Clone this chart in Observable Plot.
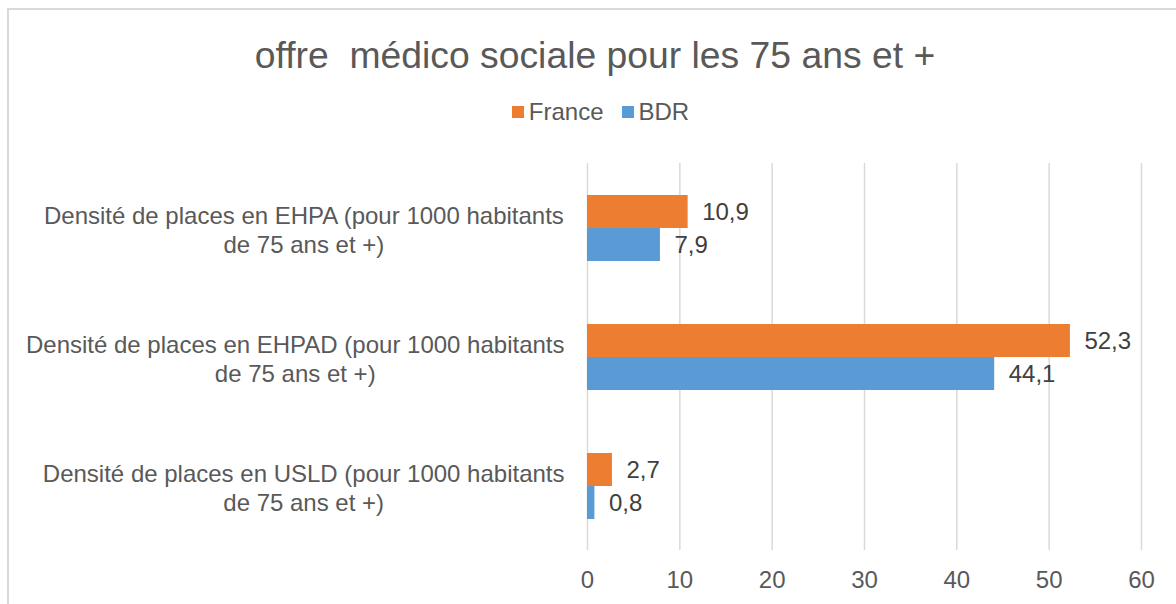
<!DOCTYPE html>
<html>
<head>
<meta charset="utf-8">
<script src="https://cdn.jsdelivr.net/npm/d3@7"></script>
<script src="https://cdn.jsdelivr.net/npm/@observablehq/plot@0.6"></script>
<style>
  html, body { margin: 0; padding: 0; background: #fff; }
  body { width: 1176px; height: 604px; overflow: hidden; position: relative;
         font-family: "Liberation Sans", Arial, sans-serif; color: #595959; }
  #frame { position: absolute; left: 7px; top: 8px; width: 1200px; height: 620px;
           border-top: 2px solid #d9d9d9; border-left: 2px solid #d9d9d9; box-sizing: border-box; }
  #title { position: absolute; left: 7px; width: 1176px; top: 36px; height: 38px;
           line-height: 38px; text-align: center; font-size: 37.3px; white-space: pre; color: #595959; }
  #legend { position: absolute; left: 0; width: 1201px; top: 100px; height: 24px;
            display: flex; justify-content: center; align-items: center; font-size: 24px; }
  .item { display: flex; align-items: center; }
  .item + .item { margin-left: 18px; }
  .sw { width: 12px; height: 12px; margin-right: 5px; }
  #chart { position: absolute; left: 0; top: 150px; }
</style>
</head>
<body>
<div id="frame"></div>
<div id="title"></div>
<div id="legend"></div>
<div id="chart"></div>
<script>
const titleText = "offre  médico sociale pour les 75 ans et +";
const categories = ["EHPA", "EHPAD", "USLD"];
const categoryLabels = [
  "Densité de places en EHPA (pour 1000 habitants\nde 75 ans et +)",
  "Densité de places en EHPAD (pour 1000 habitants\nde 75 ans et +)",
  "Densité de places en USLD (pour 1000 habitants\nde 75 ans et +)"
];
const series = ["France", "BDR"];
const franceValues = [10.9, 52.3, 2.7];
const bdrValues = [7.9, 44.1, 0.8];
const colors = ["#ED7D31", "#5B9BD5"];
const xTicks = [0, 10, 20, 30, 40, 50, 60];

const data = [];
categories.forEach((c, i) => {
  data.push({category: c, series: "France", value: franceValues[i]});
  data.push({category: c, series: "BDR", value: bdrValues[i]});
});
const fmt = v => d3.format(".1f")(v).replace(".", ",");

document.getElementById("title").textContent = titleText;
const legend = document.getElementById("legend");
series.forEach((s, i) => {
  const it = document.createElement("div");
  it.className = "item";
  const sw = document.createElement("div");
  sw.className = "sw";
  sw.style.background = colors[i];
  const t = document.createElement("span");
  t.textContent = s;
  it.appendChild(sw); it.appendChild(t);
  legend.appendChild(it);
});

// measure the first line of each label so the wrapped block is right-aligned
// against the axis (with lines centered within the block), as in the original
const ctx = document.createElement("canvas").getContext("2d");
ctx.font = "24px 'Liberation Sans', Arial, sans-serif";
const labelGap = 23; // px between label block and the axis
const labelMarks = categories.map((c, i) => {
  const lines = categoryLabels[i].split("\n");
  const w = Math.max(...lines.map(l => ctx.measureText(l).width));
  return Plot.text([c], {fy: d => d, text: () => categoryLabels[i], frameAnchor: "left",
    dx: -(labelGap + w / 2), dy: 1, textAnchor: "middle", lineHeight: 1.22,
    fill: "#595959", fontSize: 24});
});

const chart = Plot.plot({
  width: 1176,
  height: 454,
  marginLeft: 587,
  marginRight: 35,
  marginTop: 13,
  marginBottom: 54,
  style: {fontSize: "24px", fontFamily: "Liberation Sans, Arial, sans-serif", color: "#595959", background: "transparent"},
  x: {domain: [0, 60], label: null},
  y: {domain: series, paddingInner: 0, paddingOuter: 0.914, axis: null},
  fy: {domain: categories, padding: 0, axis: null},
  color: {domain: series, range: colors},
  marks: [
    Plot.gridX(xTicks, {stroke: "#d9d9d9", strokeOpacity: 1, strokeWidth: 1.5}),
    Plot.barX(data, {x: "value", y: "series", fy: "category", fill: "series"}),
    Plot.text(data, {x: "value", y: "series", fy: "category", text: d => fmt(d.value),
      textAnchor: "start", dx: 14, fill: "#404040", fontSize: 24}),
    ...labelMarks,
    Plot.axisX({ticks: xTicks, tickSize: 0, tickPadding: 20, label: null, fill: "#595959", fontSize: 24})
  ]
});
document.getElementById("chart").appendChild(chart);
</script>
</body>
</html>
